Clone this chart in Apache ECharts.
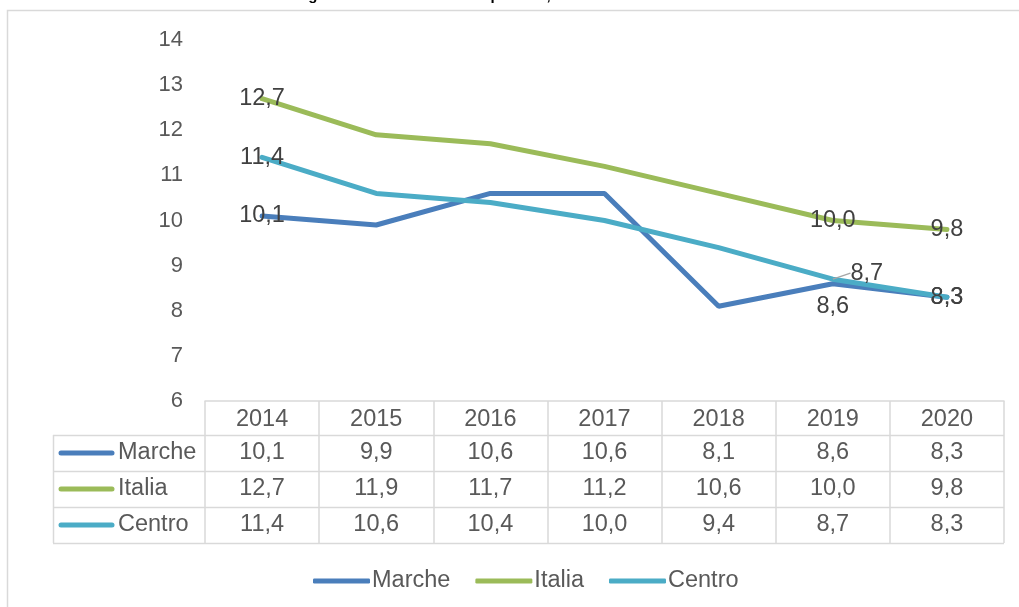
<!DOCTYPE html>
<html>
<head>
<meta charset="utf-8">
<script src="https://cdn.jsdelivr.net/npm/echarts@6/dist/echarts.min.js"></script>
<style>html,body{margin:0;padding:0;background:#fff}#c{width:1019px;height:607px}</style>
</head>
<body>
<div id="c"></div>
<script>
const years = ['2014', '2015', '2016', '2017', '2018', '2019', '2020'];
const marche = [10.1, 9.9, 10.6, 10.6, 8.1, 8.6, 8.3];
const italia = [12.7, 11.9, 11.7, 11.2, 10.6, 10.0, 9.8];
const centro = [11.4, 10.6, 10.4, 10.0, 9.4, 8.7, 8.3];
const seriesNames = ['Marche', 'Italia', 'Centro'];
const colors = ['#4a7ebb', '#9bbb59', '#4bacc6'];
const labelIdx = [0, 5, 6];
const yTicks = [6, 7, 8, 9, 10, 11, 12, 13, 14];

const FONT = "'Liberation Sans', Arial, sans-serif";
const fmt = v => v.toFixed(1).replace('.', ',');

function buildData(vals, special) {
  return vals.map((v, i) => {
    if (labelIdx.indexOf(i) < 0) return v;
    const sp = special[i] || {};
    const item = {value: v, label: Object.assign({show: true, position: 'inside'}, sp.label || {})};
    if (sp.labelLine) item.labelLine = sp.labelLine;
    return item;
  });
}

const allVals = [marche, italia, centro];
const specials = [
  {5: {label: {position: 'bottom', distance: 11}}},
  {},
  {5: {labelLine: {show: true, lineStyle: {color: '#a6a6a6', width: 1.5}}}}
];

const chart = echarts.init(document.getElementById('c'));

const tableAxes = allVals.map((vals, k) => ({
  type: 'category',
  gridIndex: 0,
  position: 'bottom',
  offset: 34 + 36 * k,
  data: vals.map(fmt),
  boundaryGap: true,
  axisLine: {show: false},
  axisTick: {show: false},
  axisLabel: {fontSize: 23.5, color: '#595959', fontFamily: FONT, margin: 6, interval: 0}
}));

const grid = {left: 205, right: 15, top: 40, bottom: 206};
const rowY = [435, 471, 507, 543];
const graphics = [
  {type: 'rect', silent: true, shape: {x: 7.5, y: 10.5, width: 1200, height: 700}, style: {fill: null, stroke: '#d9d9d9', lineWidth: 1.5}}
];
rowY.forEach(y => graphics.push({type: 'line', silent: true, shape: {x1: 53, y1: y + 0.5, x2: 1004, y2: y + 0.5}, style: {stroke: '#d9d9d9', lineWidth: 1.5}}));
graphics.push({type: 'line', silent: true, shape: {x1: 53.5, y1: 435, x2: 53.5, y2: 543}, style: {stroke: '#d9d9d9', lineWidth: 1.5}});
seriesNames.forEach((n, k) => {
  const cy = 453 + 36 * k;
  graphics.push({type: 'line', silent: true, shape: {x1: 61, y1: cy, x2: 112, y2: cy}, style: {stroke: colors[k], lineWidth: 5, lineCap: 'round'}});
  graphics.push({type: 'text', silent: true, x: 118, y: cy, style: {text: n, fontSize: 23.5, fill: '#595959', fontFamily: FONT, verticalAlign: 'middle', textAlign: 'left'}});
});

const option = {
  backgroundColor: '#fff',
  animation: false,
  title: {
    text: 'Figura 1 – Tasso di disoccupazione, anni 2014-2020',
    left: 290, top: -17,
    textStyle: {fontSize: 15, fontWeight: 'bold', color: '#000', fontFamily: FONT}
  },
  grid: grid,
  legend: {
    data: seriesNames,
    left: 308, top: 564,
    icon: 'roundRect',
    itemWidth: 57, itemHeight: 5, itemGap: 25,
    textStyle: {fontSize: 23.5, color: '#595959', fontFamily: FONT, padding: [0, 0, 0, -3]}
  },
  xAxis: [{
    type: 'category',
    data: years,
    boundaryGap: true,
    axisLine: {show: true, lineStyle: {color: '#d9d9d9', width: 1.5}},
    axisTick: {show: true, length: 142, lineStyle: {color: '#d9d9d9', width: 1.5}},
    axisLabel: {fontSize: 23.5, color: '#595959', fontFamily: FONT, margin: 7, interval: 0}
  }].concat(tableAxes),
  yAxis: {
    type: 'value', min: yTicks[0], max: yTicks[yTicks.length - 1], interval: 1,
    axisLine: {show: false}, axisTick: {show: false}, splitLine: {show: false},
    axisLabel: {fontSize: 22, color: '#595959', fontFamily: FONT, margin: 22}
  },
  series: allVals.map((vals, k) => ({
    name: seriesNames[k],
    type: 'line',
    xAxisIndex: 0,
    data: buildData(vals, specials[k]),
    symbol: 'circle', symbolSize: 0.1, showSymbol: true, showAllSymbol: true,
    color: colors[k],
    lineStyle: {width: 5, color: colors[k], cap: 'round'},
    itemStyle: {color: colors[k]},
    label: {show: false, fontSize: 23.5, color: '#404040', fontFamily: FONT, formatter: p => fmt(p.value)},
    labelLine: {show: false},
    labelLayout: k === 2 ? (p => p.dataIndex === 5 ? {dx: 34, dy: -6} : {}) : undefined,
    z: 3 + (k === 2 ? 1 : 0)
  })),
  graphic: graphics
};
chart.setOption(option);
</script>
</body>
</html>
